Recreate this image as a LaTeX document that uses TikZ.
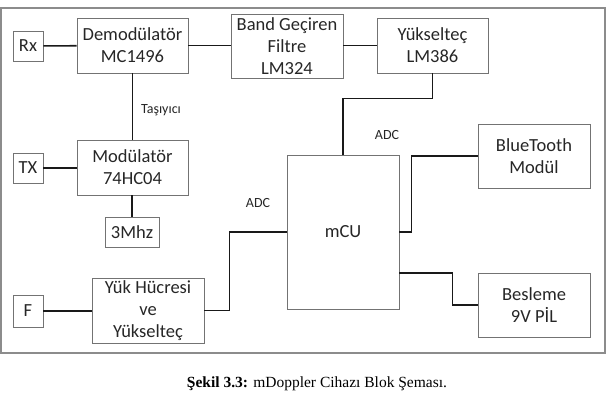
\documentclass[tikz,border=0pt]{standalone}
\usepackage{fontspec}
\setmainfont{Liberation Serif}
\newfontfamily\calib{Carlito}
\begin{document}
\begin{tikzpicture}[x=1pt,y=1pt,
  blk/.style={draw=black!55,line width=0.9pt,rectangle,inner sep=0pt,align=center,
    font=\calib\fontsize{18.5}{22}\selectfont,text=black!85},
  lbl/.style={font=\calib\fontsize{14}{16}\selectfont,text=black!85},
  wire/.style={line width=1.6pt,black!90}]
\useasboundingbox (0,0) rectangle (609,-412);
\draw[black!45,line width=1.4pt] (1,-8) rectangle (605,-353);
% blocks
\node[blk,minimum width=30,minimum height=30] (rx) at (28,-46) {Rx};
\node[blk,minimum width=111,minimum height=55] (demod) at (132.5,-45.5) {Demodülatör\\MC1496};
\node[blk,minimum width=112,minimum height=64] (band) at (287,-46.5) {Band Geçiren\\Filtre\\LM324};
\node[blk,minimum width=111,minimum height=55] (amp) at (432.5,-45.5) {Yükselteç\\LM386};
\node[blk,minimum width=30,minimum height=30] (tx) at (28,-168) {TX};
\node[blk,minimum width=111,minimum height=55] (mod) at (132.5,-167.5) {Modülatör\\74HC04};
\node[blk,minimum width=54,minimum height=30] (osc) at (132,-232) {3Mhz};
\node[blk,minimum width=30,minimum height=32] (f) at (28,-311) {F};
\node[blk,minimum width=112,minimum height=65] (load) at (148,-310.5) {Yük Hücresi\\ve\\Yükselteç};
\node[blk,minimum width=112,minimum height=154] (mcu) at (343,-232) {mCU};
\node[blk,minimum width=112,minimum height=64] (bt) at (534,-156) {BlueTooth\\Modül};
\node[blk,minimum width=112,minimum height=64] (pwr) at (534,-305) {Besleme\\9V PİL};
% labels
\node[lbl] (lcar) at (161,-110) {Taşıyıcı};
\node[lbl] (ladc1) at (258,-203) {ADC};
\node[lbl] (ladc2) at (387,-135) {ADC};
% wires
\draw[wire] (rx) -- (demod);
\draw[wire] (demod.east) -- (band.west |- demod.east);
\draw[wire] (band.east |- amp.west) -- (amp.west);
\draw[wire] (demod) -- (mod);
\draw[wire] (tx) -- (tx -| mod.west);
\draw[wire] (mod.south -| osc.north) -- (osc.north);
\draw[wire] (f) -- (f -| load.west);
\draw[wire] (load.east) -- ++(25,0) |- (mcu.west);
\draw[wire] (amp.south) -- ++(0,-25) -| (mcu.north);
\draw[wire] (bt.west) -- ++(-66,0) |- (mcu.east);
\draw[wire] (pwr.west) -- ++(-25,0) |- (mcu.east |- 0,-273);
% caption
\node (cap) at (317,-384) {\fontsize{15.5}{18}\selectfont\textbf{Şekil 3.3:} mDoppler Cihazı Blok Şeması.};
\end{tikzpicture}
\end{document}
